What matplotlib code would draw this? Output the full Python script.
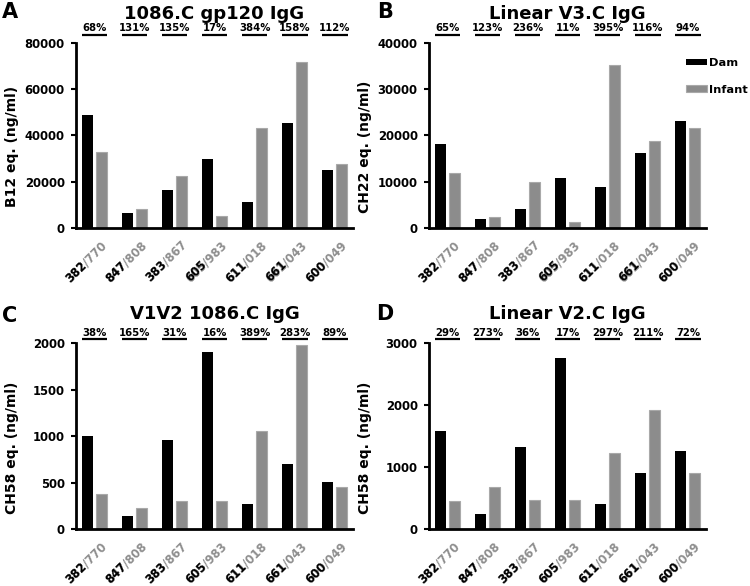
import matplotlib
matplotlib.use("Agg")
import matplotlib.pyplot as plt
import numpy as np
from matplotlib.textpath import TextPath
from matplotlib.font_manager import FontProperties

plt.rcParams['font.family'] = ['DejaVu Sans']
plt.rcParams['font.weight'] = 'bold'

# pair labels (dam id black / infant id gray)
dam_ids = ["382", "847", "383", "605", "611", "661", "600"]
infant_ids = ["770", "808", "867", "983", "018", "043", "049"]

# panel A: 1086.C gp120 IgG
a_dam = [48600, 6300, 16600, 30000, 11200, 45200, 25000]
a_inf = [33000, 8300, 22400, 5000, 43100, 71500, 27600]
a_pct = ["68%", "131%", "135%", "17%", "384%", "158%", "112%"]

# panel B: Linear V3.C IgG
b_dam = [18200, 2000, 4200, 10800, 8900, 16200, 23000]
b_inf = [11800, 2450, 9900, 1250, 35100, 18700, 21600]
b_pct = ["65%", "123%", "236%", "11%", "395%", "116%", "94%"]

# panel C: V1V2 1086.C IgG
c_dam = [1000, 140, 960, 1905, 270, 700, 505]
c_inf = [380, 230, 300, 300, 1060, 1985, 450]
c_pct = ["38%", "165%", "31%", "16%", "389%", "283%", "89%"]

# panel D: Linear V2.C IgG
d_dam = [1590, 250, 1320, 2760, 410, 910, 1270]
d_inf = [460, 680, 475, 470, 1225, 1920, 915]
d_pct = ["29%", "273%", "36%", "17%", "297%", "211%", "72%"]

titles = ["1086.C gp120 IgG", "Linear V3.C IgG", "V1V2 1086.C IgG", "Linear V2.C IgG"]
ylabels = ["B12 eq. (ng/ml)", "CH22 eq. (ng/ml)", "CH58 eq. (ng/ml)", "CH58 eq. (ng/ml)"]
letters = ["A", "B", "C", "D"]
ymaxes = [80000, 40000, 2000, 3000]
ysteps = [20000, 10000, 500, 1000]

DAM_COLOR = "black"
INF_COLOR = "#8c8c8c"
GRAY_TEXT = "#8e8e8e"
W, H = 750, 586

fig = plt.figure(figsize=(7.5, 5.86), dpi=100)

# axes rectangles in pixels: left, top, width, height
rects = [(76, 42.7, 277, 185.3), (429, 42.7, 277, 185.3),
         (76, 343.3, 277, 186), (429, 343.3, 277, 186)]
# percent line / text offsets above the axes (pixels)
line_off = [8, 8, 4.3, 4.3]
text_off = [14.5, 14.5, 10.5, 10.5]
letter_pos = [(10, 12), (385.5, 12), (10, 316), (385, 314)]

panels = [(a_dam, a_inf, a_pct), (b_dam, b_inf, b_pct),
          (c_dam, c_inf, c_pct), (d_dam, d_inf, d_pct)]

x = np.arange(len(dam_ids))
bw = 0.275
off = 0.175
TICK_FS = 8.4
fp = FontProperties(family='DejaVu Sans', weight='bold', size=TICK_FS)

for k, (dam, inf, pct) in enumerate(panels):
    l, t, w, h = rects[k]
    ax = fig.add_axes([l / W, 1 - (t + h) / H, w / W, h / H])
    b1 = ax.bar(x - off, dam, bw, color=DAM_COLOR, label="Dam")
    b2 = ax.bar(x + off, inf, bw, color=INF_COLOR, edgecolor="#a9a9a9",
                linewidth=0.8, label="Infant")
    ax.set_xlim(-0.46, 6.45)
    ax.set_ylim(0, ymaxes[k])
    ax.set_yticks(np.arange(0, ymaxes[k] + 1, ysteps[k]))
    ax.spines['top'].set_visible(False)
    ax.spines['right'].set_visible(False)
    ax.spines['left'].set_linewidth(2)
    ax.spines['bottom'].set_linewidth(2)
    ax.tick_params(axis='y', length=3.6, width=1.5, pad=4.5, labelsize=TICK_FS)
    ax.tick_params(axis='x', length=0, labelbottom=False)
    ax.set_ylabel(ylabels[k], fontsize=10, fontweight='bold')
    ax.yaxis.set_label_coords(-0.205, 0.44)

    ax.text(0.5, 1 + 29 / h, titles[k], transform=ax.transAxes,
            ha='center', va='center', fontsize=13, fontweight='bold')
    fig.text(letter_pos[k][0] / W, 1 - letter_pos[k][1] / H, letters[k],
             ha='center', va='center', fontsize=15, fontweight='bold')

    # percent brackets above each pair
    trans = ax.get_xaxis_transform()
    for i in range(len(x)):
        ax.plot([x[i] - 0.315, x[i] + 0.315], [1 + line_off[k] / h] * 2,
                color='black', lw=1.6, transform=trans, clip_on=False,
                solid_capstyle='butt')
        ax.text(x[i], 1 + text_off[k] / h, pct[i], transform=trans,
                ha='center', va='center', fontsize=7.3, fontweight='bold')

    # two-colour rotated pair labels
    for i in range(len(x)):
        full = dam_ids[i] + "/" + infant_ids[i]
        tw = TextPath((0, 0), full, prop=fp).get_extents().width
        ex, ey = 3.5, -8.0
        sx = ex - tw * np.cos(np.pi / 4)
        sy = ey - tw * np.sin(np.pi / 4)
        for s, col in [(full, GRAY_TEXT), (dam_ids[i], "black")]:
            ax.annotate(s, xy=(x[i], 0), xycoords=trans,
                        xytext=(sx, sy), textcoords='offset points',
                        rotation=45, rotation_mode='anchor',
                        ha='left', va='top', fontsize=TICK_FS,
                        fontweight='bold', color=col, annotation_clip=False)

    if k == 1:
        ax.legend(handles=[b1, b2], loc='upper left',
                  bbox_to_anchor=(686 / W, 1 - 58 / H),
                  bbox_transform=fig.transFigure, frameon=False,
                  fontsize=8.2, borderpad=0, borderaxespad=0,
                  handlelength=1.85, handleheight=0.45, handletextpad=0.15,
                  labelspacing=1.45)

fig.savefig("out.png", dpi=100)
